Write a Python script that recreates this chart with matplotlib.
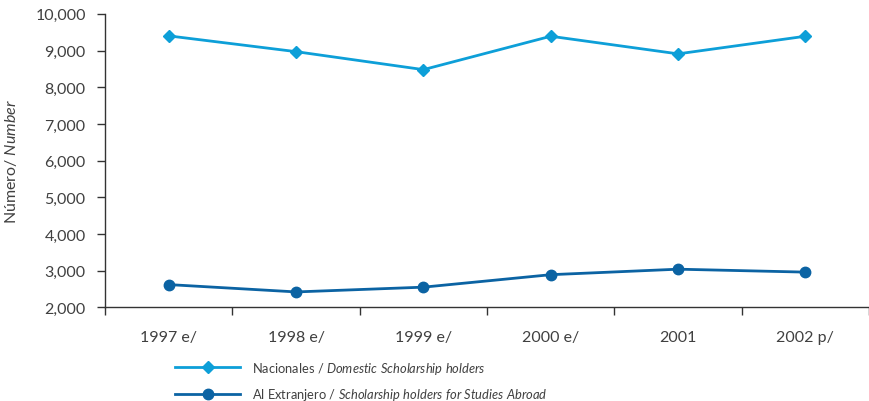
import matplotlib
matplotlib.use("Agg")
import matplotlib.pyplot as plt
import numpy as np

years = ["1997 e/", "1998 e/", "1999 e/", "2000 e/", "2001", "2002 p/"]
nacionales = [9400, 8970, 8480, 9390, 8910, 9390]
extranjero = [2620, 2420, 2550, 2890, 3040, 2960]

yticks = [2000, 3000, 4000, 5000, 6000, 7000, 8000, 9000, 10000]

light_blue = "#0d9fd8"
dark_blue = "#0b63a3"
txt = "#404040"

plt.rcParams["font.family"] = ["Lato", "DejaVu Sans"]
plt.rcParams["mathtext.fontset"] = "custom"
plt.rcParams["mathtext.it"] = "Lato:italic"
plt.rcParams["mathtext.rm"] = "Lato"

fig = plt.figure(figsize=(8.69, 4.02), dpi=100)
ax = fig.add_axes([0.121, 0.233, 0.879, 0.730])

x = np.arange(len(years))
ax.plot(x, nacionales, color=light_blue, lw=2.0, marker="D", ms=6.5,
        label=r"Nacionales / $\it{Domestic\ Scholarship\ holders}$")
ax.plot(x, extranjero, color=dark_blue, lw=2.0, marker="o", ms=7.5,
        label=r"Al Extranjero / $\it{Scholarship\ holders\ for\ Studies\ Abroad}$")

ax.set_xlim(-0.5, len(years) - 0.5)
ax.set_ylim(2000, 10000)
ax.set_yticks(yticks)
ax.set_yticklabels([f"{v:,}" for v in yticks])
ax.set_xticks(x)
ax.set_xticklabels(years)
ax.set_xticks(np.arange(len(years) + 1) - 0.5, minor=True)

ax.tick_params(axis="x", which="major", length=0, pad=16, labelsize=11.5, labelcolor=txt)
ax.tick_params(axis="x", which="minor", length=6, width=1, color="#333333")
ax.tick_params(axis="y", length=6, width=1, color="#333333", pad=8,
               labelsize=11.5, labelcolor=txt)

for s in ["top", "right"]:
    ax.spines[s].set_visible(False)
for s in ["left", "bottom"]:
    ax.spines[s].set_color("#333333")
    ax.spines[s].set_linewidth(1)

ax.set_ylabel(r"Número/ $\it{Number}$", fontsize=11.5, color=txt)
ax.yaxis.set_label_coords(-0.113, 0.5)

fig.legend(loc="upper left", bbox_to_anchor=(0.196, 0.115), frameon=False,
           fontsize=9.3, labelcolor=txt, handlelength=5.0, handletextpad=0.9,
           labelspacing=0.8, borderaxespad=0)

fig.savefig("out.png", dpi=100)
